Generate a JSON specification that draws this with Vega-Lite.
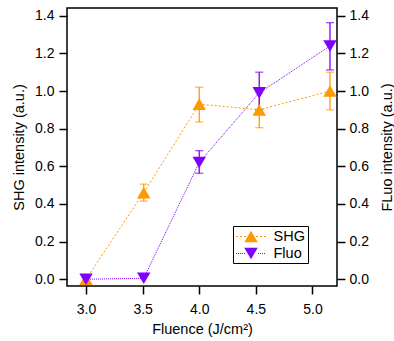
{
  "$schema": "https://vega.github.io/schema/vega-lite/v6.json",
  "width": 270,
  "height": 278,
  "autosize": {"type": "none"},
  "padding": {"left": 67, "top": 8, "right": 57, "bottom": 55},
  "background": "white",
  "config": {
    "view": {"stroke": "#000", "strokeWidth": 1.5},
    "font": "Liberation Sans",
    "axis": {
      "grid": false,
      "domain": false,
      "tickColor": "#000",
      "tickWidth": 1.5,
      "tickSize": 8,
      "labelFont": "Liberation Sans",
      "labelFontSize": 14,
      "labelColor": "#000",
      "titleFont": "Liberation Sans",
      "titleFontSize": 14.5,
      "titleFontWeight": "normal",
      "titleColor": "#000"
    }
  },
  "datasets": {
    "pts": [
      {"series": "SHG", "x": 3.0, "y": 0.0},
      {"series": "SHG", "x": 3.51, "y": 0.46, "lo": 0.415, "hi": 0.505},
      {"series": "SHG", "x": 4.0, "y": 0.93, "lo": 0.835, "hi": 1.02},
      {"series": "SHG", "x": 4.53, "y": 0.9, "lo": 0.805, "hi": 0.99},
      {"series": "SHG", "x": 5.155, "y": 1.0, "lo": 0.9, "hi": 1.1},
      {"series": "Fluo", "x": 3.0, "y": 0.0},
      {"series": "Fluo", "x": 3.51, "y": 0.005},
      {"series": "Fluo", "x": 4.0, "y": 0.62, "lo": 0.563, "hi": 0.683},
      {"series": "Fluo", "x": 4.53, "y": 0.99, "lo": 0.9, "hi": 1.1},
      {"series": "Fluo", "x": 5.155, "y": 1.239, "lo": 1.112, "hi": 1.363}
    ]
  },
  "data": {"name": "pts"},
  "encoding": {
    "x": {
      "field": "x",
      "type": "quantitative",
      "scale": {"domain": [2.832, 5.217], "nice": false, "zero": false},
      "axis": {"values": [3, 3.5, 4, 4.5, 5], "format": ".1f", "title": "Fluence (J/cm²)", "labelPadding": 8, "titlePadding": 6}
    },
    "color": {
      "field": "series",
      "type": "nominal",
      "scale": {"domain": ["SHG", "Fluo"], "range": ["#FF9900", "#7F00FF"]},
      "legend": null
    }
  },
  "layer": [
    {
      "mark": {"type": "line", "strokeWidth": 1},
      "encoding": {
        "y": {
          "field": "y",
          "type": "quantitative",
          "scale": {"domain": [-0.036, 1.441], "nice": false, "zero": false},
          "axis": {"orient": "left", "values": [0, 0.2, 0.4, 0.6, 0.8, 1.0, 1.2, 1.4], "format": ".1f", "title": "SHG intensity (a.u.)", "labelPadding": 5, "titlePadding": 8}
        },
        "strokeDash": {
          "field": "series",
          "type": "nominal",
          "scale": {"domain": ["SHG", "Fluo"], "range": [[2, 2], [1, 1]]},
          "legend": null
        }
      }
    },
    {
      "mark": {"type": "rule", "strokeWidth": 1.3},
      "encoding": {
        "y": {"field": "lo", "type": "quantitative", "scale": {"domain": [-0.036, 1.441], "nice": false, "zero": false}, "axis": null},
        "y2": {"field": "hi"}
      }
    },
    {
      "mark": {"type": "tick", "orient": "horizontal", "size": 8, "thickness": 1.3},
      "encoding": {
        "y": {"field": "lo", "type": "quantitative", "scale": {"domain": [-0.036, 1.441], "nice": false, "zero": false}, "axis": null}
      }
    },
    {
      "mark": {"type": "tick", "orient": "horizontal", "size": 8, "thickness": 1.3},
      "encoding": {
        "y": {"field": "hi", "type": "quantitative", "scale": {"domain": [-0.036, 1.441], "nice": false, "zero": false}, "axis": null}
      }
    },
    {
      "mark": {"type": "point", "filled": true, "size": 180, "opacity": 1, "strokeWidth": 0},
      "encoding": {
        "y": {"field": "y", "type": "quantitative", "scale": {"domain": [-0.036, 1.441], "nice": false, "zero": false}, "axis": null},
        "shape": {
          "field": "series",
          "type": "nominal",
          "scale": {"domain": ["SHG", "Fluo"], "range": ["triangle-up", "triangle-down"]},
          "legend": null
        }
      }
    },
    {
      "mark": {"type": "point", "filled": true, "size": 225, "opacity": 0},
      "encoding": {
        "y": {
          "field": "y",
          "type": "quantitative",
          "scale": {"domain": [-0.036, 1.441], "nice": false, "zero": false},
          "axis": {"orient": "right", "values": [0, 0.2, 0.4, 0.6, 0.8, 1.0, 1.2, 1.4], "format": ".1f", "title": "FLuo intensity (a.u.)", "titleAngle": 270, "titleBaseline": "top", "labelPadding": 4, "titlePadding": 12}
        },
        "color": {
          "field": "series",
          "type": "nominal",
          "scale": {"domain": ["SHG", "Fluo"], "range": ["#FF9900", "#7F00FF"]},
          "legend": {"title": null, "orient": "none", "legendX": 166, "legendY": 218, "strokeColor": "#000", "fillColor": "#fff", "padding": 3, "symbolSize": 225, "symbolOffset": 7.5, "symbolStrokeWidth": 0, "symbolOpacity": 1, "labelFont": "Liberation Sans", "labelFontSize": 14.5, "labelColor": "#000", "labelOffset": 15, "rowPadding": 2}
        },
        "shape": {
          "field": "series",
          "type": "nominal",
          "scale": {
            "domain": ["SHG", "Fluo"],
            "range": [
              "M0,-0.78L0.9,0.78L-0.9,0.78ZM-2,-0.067h0.267v0.133h-0.267ZM-1.467,-0.067h0.267v0.133h-0.267ZM-0.933,-0.067h0.267v0.133h-0.267ZM0.667,-0.067h0.267v0.133h-0.267ZM1.2,-0.067h0.267v0.133h-0.267ZM1.733,-0.067h0.267v0.133h-0.267Z",
              "M0,0.78L0.9,-0.78L-0.9,-0.78ZM-2,-0.067h0.133v0.133h-0.133ZM-1.733,-0.067h0.133v0.133h-0.133ZM-1.467,-0.067h0.133v0.133h-0.133ZM-1.2,-0.067h0.133v0.133h-0.133ZM-0.933,-0.067h0.133v0.133h-0.133ZM0.933,-0.067h0.133v0.133h-0.133ZM1.2,-0.067h0.133v0.133h-0.133ZM1.467,-0.067h0.133v0.133h-0.133ZM1.733,-0.067h0.133v0.133h-0.133Z"
            ]
          },
          "legend": {"title": null, "orient": "none", "legendX": 166, "legendY": 218, "strokeColor": "#000", "fillColor": "#fff", "padding": 3, "symbolSize": 225, "symbolOffset": 7.5, "symbolStrokeWidth": 0, "symbolOpacity": 1, "labelFont": "Liberation Sans", "labelFontSize": 14.5, "labelColor": "#000", "labelOffset": 15, "rowPadding": 2}
        }
      }
    }
  ],
  "resolve": {"scale": {"y": "independent", "shape": "independent", "color": "independent", "strokeDash": "independent"}}
}
